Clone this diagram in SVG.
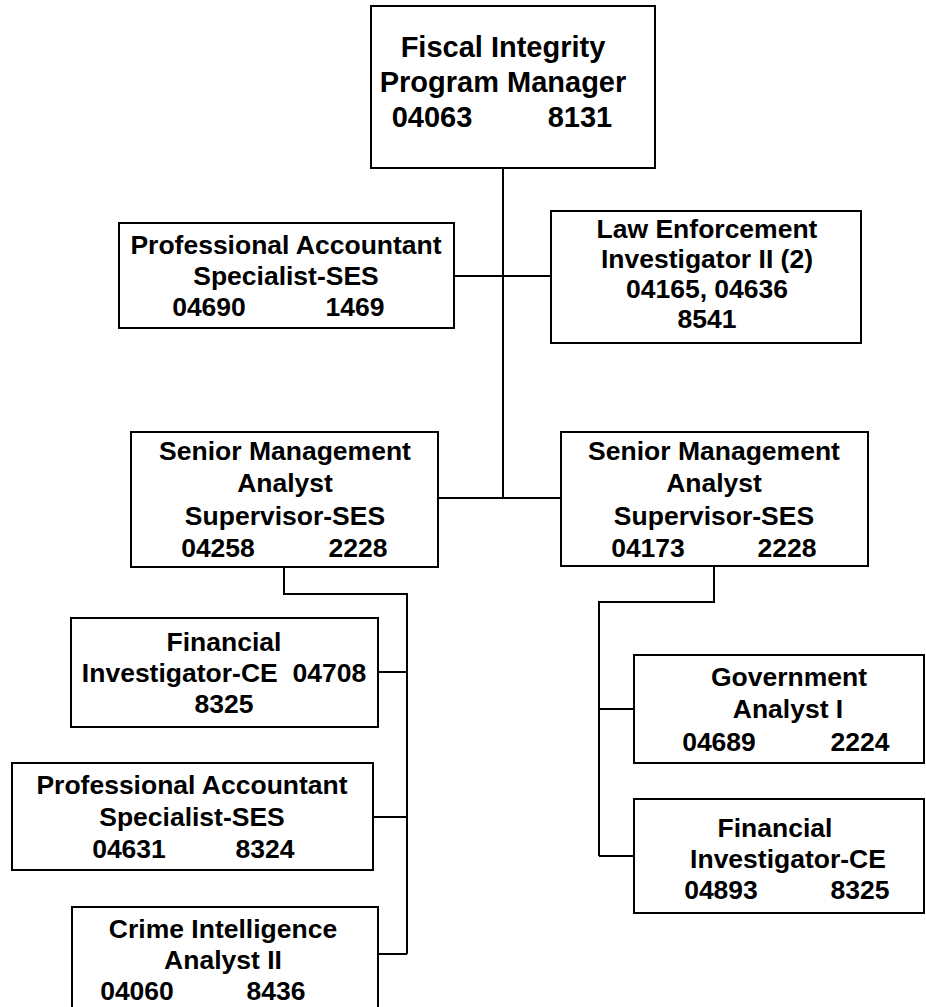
<svg xmlns="http://www.w3.org/2000/svg" width="926" height="1007" viewBox="0 0 926 1007">
  <style>
    .box { fill: #ffffff; stroke: #000000; stroke-width: 2; }
    .lbl { font-family: "Liberation Sans", Arial, sans-serif; font-weight: bold; font-size: 26.5px; fill: #000000; text-anchor: middle; }
    .big { font-size: 29px; }
    .wire { fill: none; stroke: #000000; stroke-width: 2; }
  </style>
  <rect x="0" y="0" width="926" height="1007" fill="#ffffff"/>

  <!-- reporting lines -->
  <g id="connectors">
    <path class="wire" d="M503 168 V498"/>
    <path class="wire" d="M454 276 H551"/>
    <path class="wire" d="M438 498 H561"/>
    <path class="wire" d="M284 567 V594 H407 V954"/>
    <path class="wire" d="M378 672 H407 M373 817 H407 M378 954 H407"/>
    <path class="wire" d="M714 566 V602 H599 V856"/>
    <path class="wire" d="M599 709 H634 M599 856 H634"/>
  </g>

  <g id="program-manager">
    <rect class="box" x="371" y="6" width="284" height="162"/>
    <text class="lbl big" x="503" y="57">Fiscal Integrity</text>
    <text class="lbl big" x="503" y="92">Program Manager</text>
    <text class="lbl big" x="432" y="127">04063</text>
    <text class="lbl big" x="580" y="127">8131</text>
  </g>

  <g id="prof-accountant-04690">
    <rect class="box" x="119" y="223" width="335" height="105"/>
    <text class="lbl" x="286" y="254">Professional Accountant</text>
    <text class="lbl" x="286" y="285">Specialist-SES</text>
    <text class="lbl" x="209" y="316">04690</text>
    <text class="lbl" x="355" y="316">1469</text>
  </g>

  <g id="law-enforcement">
    <rect class="box" x="551" y="211" width="310" height="132"/>
    <text class="lbl" x="707" y="238">Law Enforcement</text>
    <text class="lbl" x="707" y="268">Investigator II (2)</text>
    <text class="lbl" x="707" y="298">04165, 04636</text>
    <text class="lbl" x="707" y="328">8541</text>
  </g>

  <g id="sma-supervisor-04258">
    <rect class="box" x="131" y="432" width="307" height="135"/>
    <text class="lbl" x="285" y="460">Senior Management</text>
    <text class="lbl" x="285" y="492">Analyst</text>
    <text class="lbl" x="285" y="525">Supervisor-SES</text>
    <text class="lbl" x="218" y="557">04258</text>
    <text class="lbl" x="358" y="557">2228</text>
  </g>

  <g id="sma-supervisor-04173">
    <rect class="box" x="561" y="432" width="307" height="134"/>
    <text class="lbl" x="714" y="460">Senior Management</text>
    <text class="lbl" x="714" y="492">Analyst</text>
    <text class="lbl" x="714" y="525">Supervisor-SES</text>
    <text class="lbl" x="648" y="557">04173</text>
    <text class="lbl" x="787" y="557">2228</text>
  </g>

  <g id="financial-investigator-04708">
    <rect class="box" x="71" y="618" width="307" height="109"/>
    <text class="lbl" x="224" y="651">Financial</text>
    <text class="lbl" x="224" y="682" xml:space="preserve">Investigator-CE  04708</text>
    <text class="lbl" x="224" y="713">8325</text>
  </g>

  <g id="prof-accountant-04631">
    <rect class="box" x="12" y="763" width="361" height="107"/>
    <text class="lbl" x="192" y="794">Professional Accountant</text>
    <text class="lbl" x="192" y="826">Specialist-SES</text>
    <text class="lbl" x="129" y="858">04631</text>
    <text class="lbl" x="265" y="858">8324</text>
  </g>

  <g id="crime-intelligence">
    <rect class="box" x="72" y="907" width="306" height="115"/>
    <text class="lbl" x="223" y="938">Crime Intelligence</text>
    <text class="lbl" x="223" y="969">Analyst II</text>
    <text class="lbl" x="137" y="1000">04060</text>
    <text class="lbl" x="276" y="1000">8436</text>
  </g>

  <g id="government-analyst">
    <rect class="box" x="634" y="655" width="290" height="108"/>
    <text class="lbl" x="789" y="686">Government</text>
    <text class="lbl" x="788" y="718">Analyst I</text>
    <text class="lbl" x="719" y="751">04689</text>
    <text class="lbl" x="860" y="751">2224</text>
  </g>

  <g id="financial-investigator-04893">
    <rect class="box" x="634" y="799" width="290" height="114"/>
    <text class="lbl" x="775" y="837">Financial</text>
    <text class="lbl" x="788" y="868">Investigator-CE</text>
    <text class="lbl" x="721" y="899">04893</text>
    <text class="lbl" x="860" y="899">8325</text>
  </g>
</svg>
